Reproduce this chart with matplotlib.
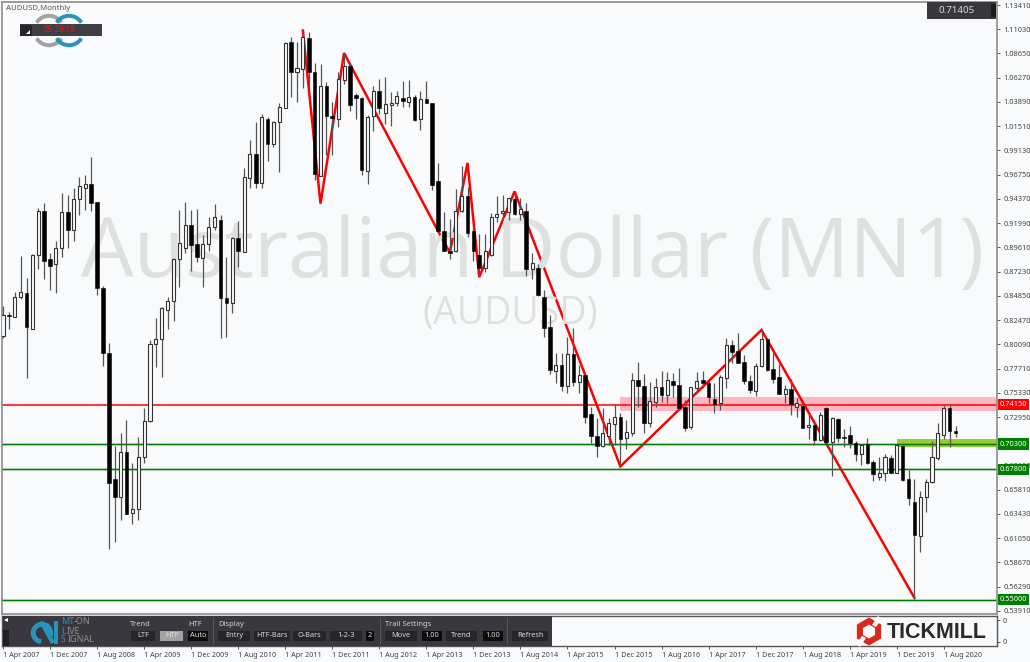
import numpy as np
import matplotlib
matplotlib.use('Agg')
from matplotlib import pyplot as plt
from matplotlib.patches import Rectangle, RegularPolygon, Wedge, Polygon

# AUDUSD monthly candles, prices x 1000, first bar is Apr 2007
opens = [809, 830, 828, 847, 851, 816, 889, 932, 885, 880,
         895, 931, 913, 944, 954, 958, 941, 856, 792, 669,
         651, 695, 635, 639, 690, 726, 801, 806, 835, 843,
         885, 895, 918, 899, 886, 899, 916, 923, 846, 841,
         905, 892, 964, 988, 959, 1022, 998, 1019, 1033, 1098,
         1068, 1071, 1102, 1068, 966, 1055, 1025, 1022, 1060, 1074,
         1046, 1043, 971, 1025, 1050, 1028, 1036, 1038, 1043, 1039,
         1044, 1022, 1042, 1038, 961, 912, 893, 893, 932, 947,
         912, 889, 876, 889, 926, 930, 931, 944, 929, 932,
         875, 876, 847, 818, 775, 781, 760, 791, 764, 771,
         732, 711, 701, 711, 723, 730, 709, 714, 766, 760,
         724, 744, 759, 751, 765, 761, 739, 720, 758, 766,
         763, 747, 743, 768, 800, 794, 784, 765, 755, 780,
         806, 777, 769, 752, 757, 739, 740, 720, 722, 707,
         738, 705, 728, 710, 712, 704, 693, 703, 685, 671,
         675, 689, 675, 701, 669, 646, 613, 651, 666, 689,
         712, 738, 716]
closes = [830, 829, 847, 852, 818, 889, 932, 883, 878, 895,
          931, 913, 944, 956, 958, 940, 856, 792, 665, 651,
          695, 634, 639, 690, 726, 801, 806, 837, 843, 885,
          900, 918, 898, 887, 899, 916, 926, 846, 841, 905,
          893, 965, 988, 959, 1024, 998, 1019, 1034, 1097, 1068,
          1072, 1103, 1068, 968, 1055, 1025, 1023, 1061, 1074, 1036,
          1043, 972, 1024, 1050, 1033, 1037, 1038, 1045, 1040, 1044,
          1021, 1042, 1038, 957, 912, 893, 891, 932, 947, 910,
          893, 876, 893, 926, 929, 932, 945, 929, 934, 875,
          881, 849, 817, 776, 781, 760, 791, 764, 771, 730,
          711, 701, 714, 724, 730, 708, 715, 766, 760, 724,
          745, 759, 751, 766, 761, 738, 719, 759, 765, 763,
          749, 742, 769, 800, 793, 783, 765, 756, 780, 806,
          776, 767, 752, 757, 742, 743, 719, 722, 707, 731,
          705, 729, 709, 709, 704, 693, 702, 684, 674, 675,
          690, 675, 702, 668, 650, 614, 651, 666, 690, 714,
          738, 716, 714]
highs = [839, 833, 852, 888, 866, 890, 935, 940, 891, 902,
         949, 948, 954, 965, 967, 985, 941, 858, 802, 701,
         714, 727, 684, 710, 738, 805, 827, 838, 847, 886,
         933, 941, 933, 934, 908, 926, 939, 928, 887, 906,
         922, 974, 1002, 1019, 1027, 1024, 1020, 1038, 1098, 1103,
         1098, 1110, 1108, 1077, 1076, 1058, 1039, 1068, 1087, 1077,
         1048, 1044, 1026, 1055, 1061, 1063, 1049, 1050, 1059, 1060,
         1046, 1050, 1059, 1038, 979, 931, 924, 953, 976, 955,
         917, 909, 909, 930, 947, 948, 945, 951, 945, 940,
         891, 880, 854, 830, 792, 792, 808, 817, 781, 771,
         739, 729, 738, 729, 742, 733, 727, 773, 784, 772,
         764, 768, 775, 774, 773, 778, 746, 759, 774, 775,
         766, 763, 771, 807, 805, 812, 790, 771, 783, 815,
         807, 792, 782, 761, 767, 748, 743, 734, 725, 734,
         739, 730, 729, 718, 721, 706, 703, 709, 687, 690,
         693, 692, 703, 702, 677, 669, 657, 669, 706, 724,
         741, 742, 721]
lows = [807, 816, 828, 845, 768, 816, 875, 865, 854, 851,
        887, 895, 902, 928, 933, 932, 849, 780, 600, 607,
        628, 634, 624, 628, 684, 725, 779, 769, 816, 824,
        857, 891, 873, 882, 857, 893, 913, 807, 808, 832,
        877, 892, 954, 954, 954, 981, 995, 970, 1033, 1044,
        1039, 1053, 1053, 962, 966, 987, 987, 1014, 1057, 1030,
        1022, 967, 958, 1010, 1027, 1017, 1015, 1035, 1034, 1034,
        1020, 1011, 1038, 952, 912, 893, 885, 892, 931, 906,
        883, 867, 872, 888, 921, 923, 923, 928, 923, 868,
        865, 848, 808, 772, 763, 755, 753, 760, 753, 724,
        704, 690, 700, 702, 702, 684, 698, 711, 739, 714,
        720, 739, 744, 743, 749, 736, 716, 718, 753, 758,
        743, 733, 736, 758, 783, 783, 762, 753, 750, 779,
        775, 763, 752, 743, 731, 730, 719, 708, 702, 706,
        704, 672, 705, 700, 699, 686, 682, 683, 667, 668,
        667, 675, 675, 667, 643, 551, 597, 636, 665, 687,
        708, 700, 710]

# red zigzag: month index and price
zig_months = [51, 54, 58, 74, 76, 79, 81, 87, 105, 129, 155]
zig_prices = [1.109, 0.939, 1.087, 0.912, 0.891, 0.979, 0.867, 0.951, 0.681, 0.815, 0.552]

# levels
red_level = 0.7415
green_levels = [0.703, 0.678, 0.55]
level_labels = ['0.74150', '0.70300', '0.67800', '0.55000']
pink_zone = (105, 0.735, 0.749)
green_zone = (152, 0.700, 0.708)

price_ticks = [1.1341, 1.1103, 1.0865, 1.0627, 1.0389, 1.0151, 0.9913, 0.9675, 0.9437,
               0.9199, 0.8961, 0.8723, 0.8485, 0.8247, 0.8009, 0.7771, 0.7533, 0.7295,
               0.6819, 0.6581, 0.6343, 0.6105, 0.5867, 0.5629, 0.5391]
month_ticks = list(range(0, 161, 8))
month_labels = ['1 Apr 2007', '1 Dec 2007', '1 Aug 2008', '1 Apr 2009', '1 Dec 2009', '1 Aug 2010',
                '1 Apr 2011', '1 Dec 2011', '1 Aug 2012', '1 Apr 2013', '1 Dec 2013', '1 Aug 2014',
                '1 Apr 2015', '1 Dec 2015', '1 Aug 2016', '1 Apr 2017', '1 Dec 2017', '1 Aug 2018',
                '1 Apr 2019', '1 Dec 2019', '1 Aug 2020']

BG = '#f9fafc'
DARK = '#38383e'
WATER = '#dfe1e1'
W, H = 1030, 662

plt.rcParams['font.family'] = ['Noto Sans', 'DejaVu Sans']
fig = plt.figure(figsize=(W / 100, H / 100), dpi=100, facecolor=BG)


def px_box(x0, y0, x1, y1):
    return [x0 / W, 1 - y1 / H, (x1 - x0) / W, (y1 - y0) / H]


ax = fig.add_axes(px_box(2, 2, 997, 614), facecolor=BG)
panel = fig.add_axes(px_box(2, 616, 997, 646), facecolor=BG, sharex=ax)
ax.set_xlim(-0.17, 169.05)
ax.set_ylim(0.53606, 1.13705)

o = np.array(opens) / 1000
c = np.array(closes) / 1000
hi = np.array(highs) / 1000
lo = np.array(lows) / 1000
idx = np.arange(len(o))
up = c >= o

# zones, levels and zigzag sit under the watermark, candles on top
ax.add_patch(Rectangle((pink_zone[0], pink_zone[1]), 200, pink_zone[2] - pink_zone[1],
                       color='#ffb6c1', lw=0, zorder=1))
ax.add_patch(Rectangle((green_zone[0], green_zone[1]), 200, green_zone[2] - green_zone[1],
                       color='#9acd32', lw=0, zorder=1))
ax.plot(zig_months, zig_prices, color='#ff0000', lw=1.8, zorder=1.5, solid_joinstyle='miter')
ax.axhline(red_level, color='#ff0000', lw=1.1, zorder=1.6)
for lv in green_levels:
    ax.axhline(lv, color='#008000', lw=2.2, alpha=0.22, zorder=1.5)
    ax.axhline(lv, color='#007a00', lw=0.9, zorder=1.6)

ax.text(0.533, 0.5507, 'Australian Dollar (MN1)', transform=ax.transAxes, color=WATER,
        fontsize=60, ha='center', va='baseline', zorder=2, family='Open Sans')
ax.text(0.511, 0.474, '(AUDUSD)', transform=ax.transAxes, color=WATER,
        fontsize=27, ha='center', va='baseline', zorder=2, family='Open Sans')

ax.vlines(idx, lo, hi, color='#555555', lw=0.9, zorder=3)
ax.bar(idx[up], (c - o)[up], bottom=o[up], width=0.52, facecolor=BG, edgecolor='#333333', lw=0.8, zorder=4)
ax.bar(idx[~up], (o - c)[~up], bottom=c[~up], width=0.62, facecolor='black', edgecolor='black', lw=0.4, zorder=4)

ax.yaxis.tick_right()
ax.set_yticks(price_ticks)
ax.set_yticklabels(['%.5f' % p for p in price_ticks])
ax.tick_params(axis='y', length=2.5, width=0.7, color='#555555', labelsize=5.3, labelcolor='#444444', pad=2)
ax.tick_params(axis='x', length=0, labelbottom=False)
for sp in ax.spines.values():
    sp.set_color('#8c8c8c')
    sp.set_linewidth(1.2)

level_vals = [red_level] + green_levels
level_cols = ['#ff0000', '#008000', '#008000', '#008000']
yax = ax.get_yaxis_transform()
for v, t, col in zip(level_vals, level_labels, level_cols):
    ax.text(1.0028, v, t, transform=yax, color='white', fontsize=5.3, ha='left', va='center',
            clip_on=False, zorder=10, bbox=dict(boxstyle='square,pad=0.28', fc=col, ec='none'))

panel.yaxis.tick_right()
panel.set_ylim(0, 1)
panel.set_yticks([0.14, 0.86])
panel.set_yticklabels(['0', '0'])
panel.tick_params(axis='y', length=2, width=0.7, color='#555555', labelsize=5.3, labelcolor='#444444', pad=2)
panel.set_xticks(month_ticks)
panel.set_xticklabels(month_labels, ha='left')
panel.tick_params(axis='x', length=2.5, width=0.7, color='#555555', labelsize=5.2, labelcolor='#444444', pad=1.5)
for sp in panel.spines.values():
    sp.set_color('#555555')
    sp.set_linewidth(1)

# overlay in pixel coordinates for the toolbar and logos
ui = fig.add_axes([0, 0, 1, 1], facecolor='none')
ui.set_xlim(0, W)
ui.set_ylim(H, 0)
ui.axis('off')


def box(x0, y0, x1, y1, col, z=5):
    ui.add_patch(Rectangle((x0, y0), x1 - x0, y1 - y0, color=col, lw=0, zorder=z))


def button(x0, x1, label, bg='#26262a', fg='#d8d8d8'):
    box(x0, 631, x1, 641, bg, 6)
    ui.text((x0 + x1) / 2, 635.6, label, color=fg, fontsize=5.3, ha='center', va='center', zorder=7)


ui.text(6, 8, 'AUDUSD,Monthly', color='#555555', fontsize=5.6, ha='left', va='center')

# MT-ON clock logo
for cx, col in [(49, '#a3a3a3'), (69, '#2a93b8')]:
    ui.add_patch(Wedge((cx, 30.5), 16, 35, 145, width=2.6, color=col, zorder=3))
    ui.add_patch(Wedge((cx, 30.5), 16, 215, 325, width=2.6, color=col, zorder=3))
box(20, 24, 102, 36, '#3f3e44')
box(20, 25, 32, 36, '#26262a', 6)
ui.add_patch(Polygon([(26, 34), (30, 34), (30, 30)], color='white', lw=0, zorder=7))
ui.text(60, 30, '05:29:18', color='#ff1010', fontsize=5.8, weight='bold', ha='center', va='center', zorder=7)

# price box, top right
box(927, 2, 996, 19, DARK)
box(991, 4, 996, 17, '#1c1c1e', 6)
ui.text(957, 10.5, '0.71405', color='#d8d8d8', fontsize=7, ha='center', va='center', zorder=7)

# toolbar
box(3, 616, 552, 646, DARK)
box(3, 630, 9, 646, '#202024', 6)
ui.add_patch(Polygon([(4, 620), (8, 618), (8, 622)], color='white', lw=0, zorder=7))
ui.add_patch(Wedge((42, 633), 10.5, 100, 20, width=3.6, color='#2a93b8', zorder=6))
ui.add_patch(Polygon([(39, 622), (43, 621), (55, 642), (51, 644)], color='#2a93b8', lw=0, zorder=7))
ui.add_patch(Polygon([(54, 621), (57.5, 621), (57.5, 644), (54, 644)], color='#2a93b8', lw=0, zorder=7))
rows = [(622, 'MT', '-ON', 74), (631, 'L', 'IVE', 67), (640, 'S', 'IGNAL', 68)]
for ry, blue, grey, gx in rows:
    ui.text(61, ry, blue, color='#2a93b8', fontsize=6.5, weight='bold', ha='left', va='center', zorder=7)
    ui.text(gx, ry, grey, color='#8d8d8d', fontsize=6.5, weight='bold', ha='left', va='center', zorder=7)

for lx, lt in [(130, 'Trend'), (188, 'HTF'), (218, 'Display'), (385, 'Trail Settings')]:
    ui.text(lx, 625, lt, color='#cfcfcf', fontsize=5.4, ha='left', va='center', zorder=7)
for sx in [213, 380, 507]:
    ui.plot([sx, sx], [618, 644], color='#55555b', lw=0.7, zorder=6)

button(131, 155, 'LTF')
button(160, 183, 'HTF', bg='#a2a2a2', fg='#e4e4e4')
button(188, 208, 'Auto', bg='#0c0c0c')
button(218, 250, 'Entry')
button(254, 290, 'HTF-Bars')
button(293, 326, 'O-Bars')
button(330, 362, '1-2-3')
button(366, 374, '2', bg='#0c0c0c')
button(385, 417, 'Move')
button(422, 442, '1.00', bg='#0c0c0c')
button(446, 477, 'Trend')
button(483, 503, '1.00', bg='#0c0c0c')
button(512, 548, 'Refresh')

# Tickmill logo
ui.add_patch(RegularPolygon((869, 631.5), 6, radius=14, color='#d9281e', lw=0, zorder=5))
ui.add_patch(RegularPolygon((869, 631.5), 6, radius=7, color=BG, lw=0, zorder=6))
ui.add_patch(Polygon([(872, 625), (876, 627), (882, 619), (878, 616)], color=BG, lw=0, zorder=6))
ui.add_patch(Polygon([(866, 638), (862, 636), (856, 644), (860, 647)], color=BG, lw=0, zorder=6))
ui.text(887, 632, 'TICKMILL', color='#2b2b2b', fontsize=15.5, weight='bold', family='Liberation Sans',
        ha='left', va='center', zorder=6)

fig.savefig('out.png', dpi=100, facecolor=BG)
